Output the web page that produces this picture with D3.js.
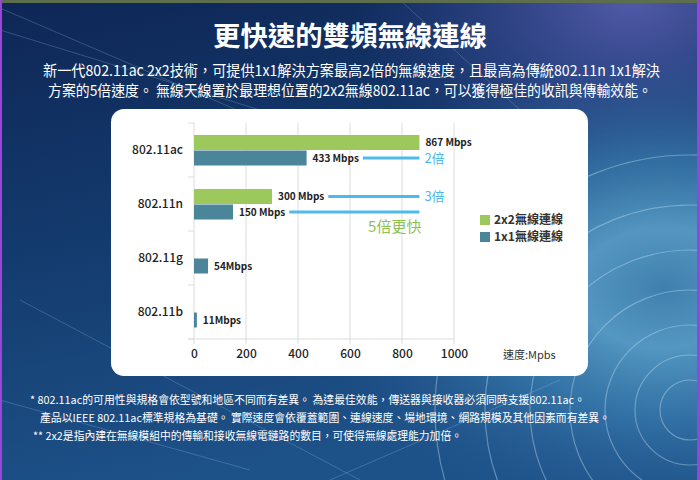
<!DOCTYPE html>
<html>
<head>
<meta charset="utf-8">
<script src="https://cdn.jsdelivr.net/npm/d3@7"></script>
<style>
  body { margin: 0; background: #0f2a58; }
  svg { display: block; }
  text { font-family: "Noto Sans CJK TC", "Noto Sans", sans-serif; }
</style>
</head>
<body>
<script>
const categories = ["802.11ac", "802.11n", "802.11g", "802.11b"];
const speed2x2 = [867, 300, null, null];
const speed1x1 = [433, 150, 54, 11];
const label2x2 = ["867 Mbps", "300 Mbps", null, null];
const label1x1 = ["433 Mbps", "150 Mbps", "54Mbps", "11Mbps"];
const xTicks = [0, 200, 400, 600, 800, 1000];
const legendNames = ["2x2無線連線", "1x1無線連線"];
// comparison lines: which category / series, and the text after the line
const compares = [
  { cat: "802.11ac", series: "1x1", text: "2倍" },
  { cat: "802.11n", series: "2x2", text: "3倍" },
  { cat: "802.11n", series: "1x1", text: "" }
];
const compareTarget = 867;

const title = "更快速的雙頻無線連線";
const subLines = [
  "新一代802.11ac 2x2技術，可提供1x1解決方案最高2倍的無線速度，且最高為傳統802.11n 1x1解決",
  "方案的5倍速度。 無線天線置於最理想位置的2x2無線802.11ac，可以獲得極佳的收訊與傳輸效能。"
];
const notes = [
  "* 802.11ac的可用性與規格會依型號和地區不同而有差異。 為達最佳效能，傳送器與接收器必須同時支援802.11ac。",
  "產品以IEEE 802.11ac標準規格為基礎。 實際速度會依覆蓋範圍、連線速度、場地環境、網路規模及其他因素而有差異。",
  "** 2x2是指內建在無線模組中的傳輸和接收無線電鏈路的數目，可使得無線處理能力加倍。"
];

const w = 700, h = 480;
const green = "#9dc95c", teal = "#4a8599", lineBlue = "#4db9ee";

const svg = d3.select("body").append("svg").attr("width", w).attr("height", h);
const defs = svg.append("defs");

const bg = defs.append("linearGradient").attr("id", "bg")
  .attr("x1", 0).attr("y1", 0).attr("x2", 0.3).attr("y2", 1);
bg.append("stop").attr("offset", 0).attr("stop-color", "#0e2656");
bg.append("stop").attr("offset", 0.5).attr("stop-color", "#143b6e");
bg.append("stop").attr("offset", 1).attr("stop-color", "#1d5289");

const glow = defs.append("radialGradient").attr("id", "glow")
  .attr("cx", 0.95).attr("cy", 0.6).attr("r", 0.5);
glow.append("stop").attr("offset", 0).attr("stop-color", "#3f7fae").attr("stop-opacity", 1);
glow.append("stop").attr("offset", 0.25).attr("stop-color", "#5a9fc8").attr("stop-opacity", 0.9);
glow.append("stop").attr("offset", 0.55).attr("stop-color", "#3a7db0").attr("stop-opacity", 0.7);
glow.append("stop").attr("offset", 1).attr("stop-color", "#2a5a92").attr("stop-opacity", 0);

const topGlow = defs.append("radialGradient").attr("id", "topglow")
  .attr("cx", 0.9).attr("cy", 0).attr("r", 0.4);
topGlow.append("stop").attr("offset", 0).attr("stop-color", "#5a5fb0").attr("stop-opacity", 0.9);
topGlow.append("stop").attr("offset", 1).attr("stop-color", "#3a4a9a").attr("stop-opacity", 0);

svg.append("rect").attr("width", w).attr("height", h).attr("fill", "url(#bg)");
svg.append("rect").attr("width", w).attr("height", h).attr("fill", "url(#topglow)");
svg.append("rect").attr("width", w).attr("height", h).attr("fill", "url(#glow)");

// tunnel rings on the right
const rings = [30, 55, 85, 120, 160, 205, 255];
svg.append("g").selectAll("circle").data(rings).enter().append("circle")
  .attr("cx", 690).attr("cy", 410).attr("r", d => d)
  .attr("fill", "none").attr("stroke", "#c4e2f2")
  .attr("stroke-opacity", 0.4).attr("stroke-width", 1.2);

// faint streaks
const streaks = [[0, 8, 330, 150], [0, 30, 260, 110], [20, 300, 360, 480], [0, 400, 250, 470], [330, 480, 560, 380], [400, 0, 520, 110]];
svg.append("g").selectAll("line").data(streaks).enter().append("line")
  .attr("x1", d => d[0]).attr("y1", d => d[1]).attr("x2", d => d[2]).attr("y2", d => d[3])
  .attr("stroke", "#9fcff0").attr("stroke-opacity", 0.25).attr("stroke-width", 1);

// top strip and side borders
svg.append("rect").attr("width", w).attr("height", 3).attr("fill", "#5d6e4e");
svg.append("rect").attr("width", 2).attr("height", h).attr("fill", "#9a45d8");
svg.append("rect").attr("x", w - 3).attr("width", 3).attr("height", h).attr("fill", "#9a45d8");

// heading texts
svg.append("text").attr("x", w / 2).attr("y", 46).attr("text-anchor", "middle")
  .attr("fill", "white").attr("font-size", 27).attr("font-weight", 700)
  .attr("textLength", 274).attr("lengthAdjust", "spacingAndGlyphs")
  .text(title);

const subSpans = [[43, 617], [48, 604]];
svg.selectAll(".sub").data(subLines).enter().append("text")
  .attr("class", "sub")
  .attr("x", (d, i) => subSpans[i][0]).attr("y", (d, i) => 76 + i * 20)
  .attr("fill", "white").attr("font-size", 15)
  .attr("textLength", (d, i) => subSpans[i][1]).attr("lengthAdjust", "spacingAndGlyphs")
  .text(d => d);

const noteSpans = [[30, 555], [40, 570], [33, 429]];
svg.selectAll(".note").data(notes).enter().append("text")
  .attr("class", "note")
  .attr("x", (d, i) => noteSpans[i][0]).attr("y", (d, i) => 404 + i * 18)
  .attr("fill", "white").attr("font-size", 11)
  .attr("textLength", (d, i) => noteSpans[i][1]).attr("lengthAdjust", "spacingAndGlyphs")
  .text(d => d);

// white panel
svg.append("rect").attr("x", 111).attr("y", 109).attr("width", 477).attr("height", 267)
  .attr("rx", 13).attr("fill", "white");

// scales
const xScale = d3.scaleLinear().domain([0, 1000]).range([194, 454]);
const yScale = d3.scaleBand().domain(categories).range([123, 339]);
const barH = 15;

// grid lines
svg.append("g").selectAll("line").data(xTicks).enter().append("line")
  .attr("x1", d => xScale(d)).attr("x2", d => xScale(d))
  .attr("y1", 123).attr("y2", 344)
  .attr("stroke", "#dcdcdc").attr("stroke-width", 1);

// category separators on y axis
const seps = categories.map(c => yScale(c)).concat([339]);
svg.append("g").selectAll("line").data(seps).enter().append("line")
  .attr("x1", 188).attr("x2", 194).attr("y1", d => d).attr("y2", d => d)
  .attr("stroke", "#dcdcdc");
svg.append("line").attr("x1", 188).attr("x2", 454).attr("y1", 339).attr("y2", 339)
  .attr("stroke", "#dcdcdc");

// x axis labels
const xAxis = d3.axisBottom(xScale).tickValues(xTicks).tickFormat(d3.format("d"))
  .tickSize(0).tickPadding(10);
const xg = svg.append("g").attr("transform", "translate(0,339)").call(xAxis);
xg.select(".domain").remove();
xg.selectAll("text").attr("font-size", 12).attr("font-weight", 500).attr("fill", "#222");

svg.append("text").attr("x", 503).attr("y", 359).attr("font-size", 11).attr("fill", "#333")
  .text("速度:Mpbs");

// y axis labels
const yAxis = d3.axisLeft(yScale).tickSize(0).tickPadding(11);
const yg = svg.append("g").attr("transform", "translate(194,0)").call(yAxis);
yg.select(".domain").remove();
yg.selectAll("text").attr("font-size", 12).attr("font-weight", 500).attr("fill", "#222")
  .attr("dy", "0.3em");

const mid = c => yScale(c) + yScale.bandwidth() / 2;

const rows = categories.map((c, i) => ({ c, v2: speed2x2[i], v1: speed1x1[i], l2: label2x2[i], l1: label1x1[i] }));

// bars
svg.append("g").selectAll("rect").data(rows.filter(d => d.v2 != null)).enter().append("rect")
  .attr("x", xScale(0)).attr("y", d => mid(d.c) - barH)
  .attr("width", d => xScale(d.v2) - xScale(0)).attr("height", barH)
  .attr("fill", green);
svg.append("g").selectAll("rect").data(rows).enter().append("rect")
  .attr("x", xScale(0)).attr("y", d => mid(d.c) + 0.5)
  .attr("width", d => xScale(d.v1) - xScale(0)).attr("height", barH)
  .attr("fill", teal);

// value labels
const labelEnd = {};
function valueLabel(d, key, v, l, yOff) {
  const t = svg.append("text")
    .attr("x", xScale(v) + 6).attr("y", mid(d.c) + yOff)
    .attr("dy", "0.35em").attr("font-size", 10).attr("font-weight", 700).attr("fill", "#222")
    .text(l);
  labelEnd[d.c + key] = xScale(v) + 6 + t.node().getComputedTextLength();
}
rows.forEach(d => {
  if (d.v2 != null) valueLabel(d, "2x2", d.v2, d.l2, -barH / 2);
  valueLabel(d, "1x1", d.v1, d.l1, barH / 2 + 0.5);
});

// comparison lines
compares.forEach(cp => {
  const y = mid(cp.cat) + (cp.series === "2x2" ? -barH / 2 : barH / 2 + 0.5);
  svg.append("line")
    .attr("x1", labelEnd[cp.cat + cp.series] + 4).attr("x2", xScale(compareTarget))
    .attr("y1", y).attr("y2", y)
    .attr("stroke", lineBlue).attr("stroke-width", 3);
  if (cp.text) {
    svg.append("text").attr("x", xScale(compareTarget) + 5).attr("y", y).attr("dy", "0.35em")
      .attr("font-size", 13).attr("fill", lineBlue).text(cp.text);
  }
});
svg.append("text").attr("x", xScale(compareTarget) + 2).attr("y", mid("802.11n") + barH + 13)
  .attr("text-anchor", "end").attr("font-size", 15).attr("fill", "#8cc152")
  .text("5倍更快");

// legend
const legend = svg.append("g").attr("transform", "translate(480,215)");
legend.selectAll("rect").data(legendNames).enter().append("rect")
  .attr("x", 0).attr("y", (d, i) => i * 17).attr("width", 10).attr("height", 10)
  .attr("fill", (d, i) => i === 0 ? green : teal);
legend.selectAll("text").data(legendNames).enter().append("text")
  .attr("x", 14).attr("y", (d, i) => i * 17 + 5).attr("dy", "0.35em")
  .attr("font-size", 12).attr("font-weight", 600).attr("fill", "#333")
  .text(d => d);
</script>
</body>
</html>
